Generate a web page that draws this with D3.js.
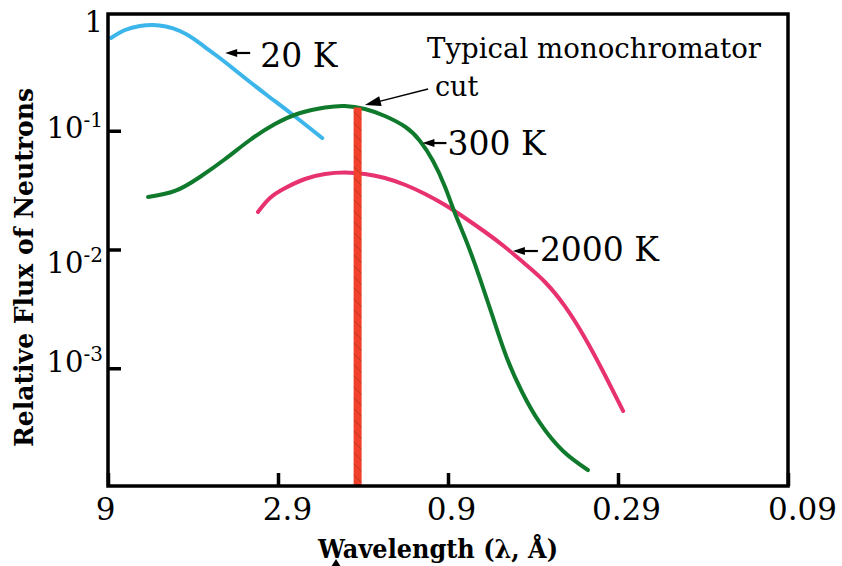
<!DOCTYPE html>
<html><head><meta charset="utf-8">
<script src="https://cdn.jsdelivr.net/npm/d3@7"></script>
<style>body{margin:0;background:#fff}svg{display:block}</style>
</head><body>
<svg id="chart" width="842" height="566"></svg>
<script>
// ---------------- DATA ----------------
// Wavelength in Å, relative flux (log scale)
const lambda20K = [8.82, 8.02, 7.25, 6.64, 6.08, 5.53, 5.06, 4.67, 4.30, 3.94, 3.56, 3.07, 2.57, 2.11];
const flux20K   = [0.604, 0.705, 0.762, 0.777, 0.755, 0.692, 0.600, 0.507, 0.426, 0.351, 0.278, 0.200, 0.1357, 0.0869];

const lambda300K = [6.86, 5.72, 4.83, 4.07, 3.44, 2.905, 2.45, 2.07, 1.81, 1.58, 1.38, 1.20, 1.088, 0.996, 0.918, 0.859, 0.791, 0.724, 0.663, 0.604, 0.545, 0.483, 0.413, 0.349];
const flux300K   = [0.02767, 0.03110, 0.04078, 0.05783, 0.08358, 0.1139, 0.1411, 0.1570, 0.1616, 0.1525, 0.1331, 0.1075, 0.0820, 0.05561, 0.03360, 0.02030, 0.01134, 0.00564, 0.00265, 0.00122, 0.000631, 0.000346, 0.000201, 0.000139];

const lambda2000K = [3.26, 3.005, 2.71, 2.37, 2.07, 1.81, 1.58, 1.38, 1.20, 1.051, 0.918, 0.802, 0.700, 0.612, 0.534, 0.466, 0.408, 0.356, 0.311, 0.275];
const flux2000K   = [0.02069, 0.02714, 0.03295, 0.03924, 0.04323, 0.04450, 0.04323, 0.04000, 0.03493, 0.02934, 0.02369, 0.01842, 0.01404, 0.01050, 0.00755, 0.00530, 0.00333, 0.001797, 0.000877, 0.000437];

const seriesNames = ["20 K", "300 K", "2000 K"];
const labelTipLambda = [4.07, 1.07, 0.580];
const labelTipFlux   = [0.4517, 0.0788, 0.00971];

const cutLambda = 1.66;      // monochromator cut wavelength
const cutTopFlux = 0.157;
const cutArrowTail = [1.03, 0.2247];
const cutArrowTip  = [1.58, 0.1647];
const cutLabel = ["Typical monochromator", "cut"];

const xTickValues = [9, 2.846, 0.9, 0.2846, 0.09];
const xTickLabels = ["9", "2.9", "0.9", "0.29", "0.09"];
const yTickValues = [1, 0.1, 0.01, 0.001];
const yTickBase = ["1", "10", "10", "10"];
const yTickExp  = ["", "-1", "-2", "-3"];

const xTitle = "Wavelength (λ, Å)";
const yTitle = "Relative Flux of Neutrons";

// ---------------- LAYOUT ----------------
const svg = d3.select("#chart");
const font = "'DejaVu Serif', serif";
const plot = {left: 108, right: 788, top: 12, bottom: 487, frameTop: 14, frameBottom: 486};
const x = d3.scaleLog().domain([9, 0.09]).range([plot.left, plot.right]);
const y = d3.scaleLog().domain([1e-4, 1]).range([plot.bottom, plot.top]);

const defs = svg.append("defs");
const pat = defs.append("pattern").attr("id", "hatch")
  .attr("patternUnits", "userSpaceOnUse").attr("width", 11).attr("height", 11);
pat.append("rect").attr("width", 11).attr("height", 11).attr("fill", "#f2412b");
pat.append("path").attr("d", "M0,0 L11,11 M-5.5,5.5 L5.5,16.5 M5.5,-5.5 L16.5,5.5")
  .attr("stroke", "#6e2a18").attr("stroke-width", 0.8).attr("opacity", 0.55);

// curves
const line = d3.line().x(d => x(d[0])).y(d => y(d[1])).curve(d3.curveNatural);
const series = [
  {lam: lambda2000K, flux: flux2000K, color: "#e8316f"},
  {lam: lambda20K, flux: flux20K, color: "#3cb5ea"},
  {lam: lambda300K, flux: flux300K, color: "#0f7a2c"}
];
svg.append("g").selectAll("path").data(series).join("path")
  .attr("d", s => line(s.lam.map((l, i) => [l, s.flux[i]])))
  .attr("fill", "none").attr("stroke", s => s.color)
  .attr("stroke-width", 4).attr("stroke-linecap", "round").attr("stroke-linejoin", "round");

// monochromator cut bar
svg.append("rect")
  .attr("x", x(cutLambda) - 4).attr("width", 8)
  .attr("y", y(cutTopFlux)).attr("height", plot.frameBottom - y(cutTopFlux))
  .attr("fill", "url(#hatch)");

// frame
svg.append("rect").attr("x", plot.left).attr("y", plot.frameTop)
  .attr("width", plot.right - plot.left).attr("height", plot.frameBottom - plot.frameTop)
  .attr("fill", "none").attr("stroke", "#000").attr("stroke-width", 3.5);

// x axis
const xLabelShift = [-3, 9, 3, 8, 14];
const gx = svg.append("g").attr("transform", `translate(0,${plot.frameBottom})`)
  .call(d3.axisBottom(x).tickValues(xTickValues).tickFormat((d, i) => xTickLabels[i])
    .tickSizeInner(-13).tickSizeOuter(0));
gx.select(".domain").remove();
gx.selectAll(".tick line").attr("stroke", "#000").attr("stroke-width", 3.5);
gx.selectAll(".tick text").attr("y", 34).attr("dy", 0)
  .attr("dx", (d, i) => xLabelShift[i])
  .attr("font-family", font).attr("font-size", 31).attr("fill", "#000");

// y axis ticks
const gy = svg.append("g").attr("transform", `translate(${plot.left},0)`)
  .call(d3.axisLeft(y).tickValues(yTickValues.slice(1)).tickFormat("")
    .tickSizeInner(-13).tickSizeOuter(0));
gy.select(".domain").remove();
gy.selectAll(".tick line").attr("stroke", "#000").attr("stroke-width", 3.5);

// y tick labels with superscripts
const yLabelShift = [20, 7, 23, 4];
const ylab = svg.append("g").selectAll("text").data(yTickValues).join("text")
  .attr("x", 103).attr("y", (d, i) => y(d) + yLabelShift[i])
  .attr("text-anchor", "end").attr("font-family", font).attr("fill", "#000");
ylab.append("tspan").attr("font-size", 29).text((d, i) => yTickBase[i]);
ylab.filter((d, i) => yTickExp[i] !== "").append("tspan")
  .attr("font-size", 20).attr("dy", -11).text(d => yTickExp[yTickValues.indexOf(d)]);

// axis titles
svg.append("text").attr("x", 438).attr("y", 558).attr("text-anchor", "middle")
  .attr("font-family", font).attr("font-weight", "bold").attr("font-size", 26)
  .attr("textLength", 240).attr("lengthAdjust", "spacingAndGlyphs").text(xTitle);
svg.append("text").attr("transform", "translate(33,267.5) rotate(-90)")
  .attr("text-anchor", "middle")
  .attr("font-family", font).attr("font-weight", "bold").attr("font-size", 26)
  .attr("textLength", 359).attr("lengthAdjust", "spacingAndGlyphs").text(yTitle);

// small marker under the x title
svg.append("path").attr("d", "M336,559 L331,567 L341,567 Z").attr("fill", "#000");

// arrows helper
function arrow(g, tail, tip, headLen, headW, sw) {
  const ang = Math.atan2(tip[1] - tail[1], tip[0] - tail[0]);
  const c = Math.cos(ang), s = Math.sin(ang);
  const bx = tip[0] - headLen * c, by = tip[1] - headLen * s;
  g.append("line").attr("x1", tail[0]).attr("y1", tail[1])
    .attr("x2", bx + 2 * c).attr("y2", by + 2 * s)
    .attr("stroke", "#000").attr("stroke-width", sw);
  g.append("path").attr("d",
    `M${tip[0]},${tip[1]} L${bx - headW / 2 * s},${by + headW / 2 * c} L${bx + headW / 2 * s},${by - headW / 2 * c} Z`)
    .attr("fill", "#000");
}

// series labels
const ann = svg.append("g");
const tailLen = [25, 24, 25];
const textDx = [35, 25, 27];
const textDy = [14, 12, 10];
seriesNames.forEach((name, i) => {
  const tx = x(labelTipLambda[i]), ty = y(labelTipFlux[i]);
  arrow(ann, [tx + tailLen[i], ty], [tx, ty], 12, 8, 2.2);
  ann.append("text").attr("x", tx + textDx[i]).attr("y", ty + textDy[i])
    .attr("font-family", font).attr("font-size", 33).attr("fill", "#000").text(name);
});

// monochromator annotation
arrow(ann, [x(cutArrowTail[0]), y(cutArrowTail[1])], [x(cutArrowTip[0]), y(cutArrowTip[1])], 16, 10, 1.4);
ann.append("text").attr("x", 427).attr("y", 58)
  .attr("font-family", font).attr("font-size", 27).attr("fill", "#000")
  .attr("textLength", 334).attr("lengthAdjust", "spacingAndGlyphs").text(cutLabel[0]);
ann.append("text").attr("x", 435).attr("y", 96)
  .attr("font-family", font).attr("font-size", 27).attr("fill", "#000").text(cutLabel[1]);
</script>
</body></html>
